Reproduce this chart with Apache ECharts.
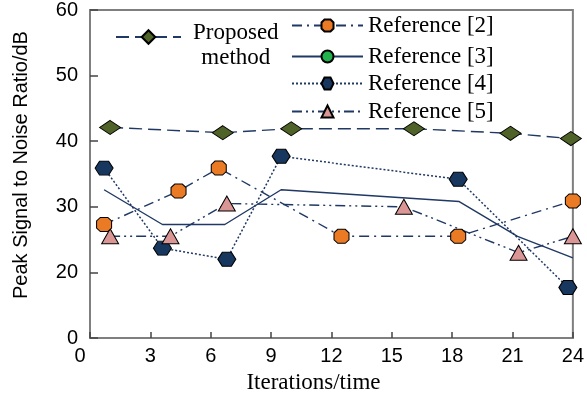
<!DOCTYPE html>
<html>
<head>
<meta charset="utf-8">
<script src="https://cdn.jsdelivr.net/npm/echarts@6/dist/echarts.min.js"></script>
<style>html,body{margin:0;padding:0;background:#fff}#c{width:587px;height:400px}</style>
</head>
<body>
<div id="c"></div>
<script>
// Data: [iteration, PSNR]
const seriesNames = ['Proposed method', 'Reference [2]', 'Reference [3]', 'Reference [4]', 'Reference [5]'];
const proposed = [[1.0, 42.1], [6.6, 41.3], [10.0, 41.9], [16.1, 41.9], [20.9, 41.2], [23.9, 40.4]];
const ref2 = [[0.7, 27.3], [4.4, 32.4], [6.4, 35.9], [12.5, 25.5], [18.3, 25.5], [24.0, 30.9]];
const ref3 = [[0.7, 32.6], [3.6, 27.3], [6.7, 27.3], [9.5, 32.6], [18.35, 30.8], [21.25, 25.5], [24.0, 22.2]];
const ref4 = [[0.7, 35.9], [3.6, 23.7], [6.8, 22.0], [9.5, 37.7], [18.3, 34.2], [23.75, 17.7]];
const ref5 = [[1.0, 25.5], [4.0, 25.5], [6.8, 30.5], [15.6, 30.0], [21.3, 23.0], [24.0, 25.5]];
const xTicks = {min: 0, max: 24, step: 3};
const yTicks = {min: 10, max: 60, step: 10};

const navy = '#1f3864';
const serif = 'Liberation Serif';
const sans = 'Liberation Sans';
const hexPath = 'path://M0,5 L3,0 L9,0 L12,5 L9,10 L3,10 Z';
const octPath = 'path://M3,0 L9,0 L12,3 L12,9 L9,12 L3,12 L0,9 L0,3 Z';

const chart = echarts.init(document.getElementById('c'), null, {renderer: 'canvas'});

function legendAt(name, left, top, width, extra) {
  return Object.assign({
    data: [name], left: left, top: top, padding: 0, orient: 'vertical',
    itemWidth: width, itemHeight: 15, selectedMode: false,
    textStyle: {fontFamily: serif, fontSize: 23, color: '#000', padding: [8, 0, 0, 0]}
  }, extra || {});
}

const option = {
  animation: false,
  backgroundColor: '#fff',
  grid: {left: 90, right: 9, top: 6, bottom: 62, show: true, borderColor: '#7f7f7f', borderWidth: 2},
  legend: [
    legendAt(seriesNames[0], 115, 21, 65, {
      itemHeight: 17,
      formatter: function () { return '{a|Proposed}\n{a|method}'; },
      textStyle: {fontFamily: serif, fontSize: 23, color: '#000', padding: [16, 0, 0, 7],
        rich: {a: {align: 'center', fontFamily: serif, fontSize: 23, lineHeight: 25, color: '#000'}}}
    }),
    legendAt(seriesNames[1], 291, 14, 71),
    legendAt(seriesNames[2], 291, 45, 71),
    legendAt(seriesNames[3], 291, 72, 71),
    legendAt(seriesNames[4], 291, 100, 71)
  ],
  xAxis: {
    type: 'value', min: xTicks.min, max: xTicks.max, interval: xTicks.step,
    name: 'Iterations/time', nameLocation: 'middle', nameGap: 33,
    nameTextStyle: {fontFamily: serif, fontSize: 23, color: '#000', padding: [0, 36, 0, 0]},
    axisLine: {lineStyle: {color: '#7f7f7f', width: 2}},
    axisTick: {inside: true, length: 6, lineStyle: {color: '#444', width: 1.5}},
    axisLabel: {
      fontFamily: sans, fontSize: 20, color: '#000', margin: 8,
      formatter: function (v) { return v === 0 ? '{z|0}' : String(v); },
      rich: {z: {fontFamily: sans, fontSize: 20, color: '#000', padding: [0, 20, 0, 0]}}
    },
    splitLine: {show: false}
  },
  yAxis: {
    type: 'value', min: yTicks.min, max: yTicks.max, interval: yTicks.step,
    name: 'Peak Signal to Noise Ratio/dB', nameLocation: 'middle', nameGap: 59,
    nameTextStyle: {fontFamily: sans, fontSize: 20, color: '#000', padding: [0, 0, 0, 18]},
    axisLine: {lineStyle: {color: '#7f7f7f', width: 2}},
    axisTick: {inside: true, length: 8, lineStyle: {color: '#444', width: 1.5}},
    axisLabel: {
      fontFamily: sans, fontSize: 20, color: '#000', margin: 12, padding: [6, 0, 0, 0],
      formatter: function (v) { return v === yTicks.min ? '0' : String(v); }
    },
    splitLine: {show: false}
  },
  series: [
    {
      name: seriesNames[2], type: 'line', data: ref3, symbol: 'circle', showSymbol: false, symbolSize: [22, 10],
      lineStyle: {color: navy, width: 1.4, type: 'solid'},
      itemStyle: {color: '#22b14c', borderColor: '#000', borderWidth: 1}, z: 2
    },
    {
      name: seriesNames[3], type: 'line', data: ref4, symbol: hexPath, symbolSize: [18, 14],
      lineStyle: {color: navy, width: 1.5, type: [2, 2]},
      itemStyle: {color: '#17375e', borderColor: '#000', borderWidth: 1}, z: 3
    },
    {
      name: seriesNames[4], type: 'line', data: ref5, symbol: 'triangle', symbolSize: [17, 15],
      lineStyle: {color: navy, width: 1.4, type: [10, 4, 2, 4, 2, 4]},
      itemStyle: {color: '#d99694', borderColor: '#000', borderWidth: 1}, z: 3
    },
    {
      name: seriesNames[1], type: 'line', data: ref2, symbol: octPath, symbolSize: [15, 14],
      lineStyle: {color: navy, width: 1.4, type: [10, 5, 2, 5]},
      itemStyle: {color: '#ea7a24', borderColor: '#000', borderWidth: 1}, z: 4
    },
    {
      name: seriesNames[0], type: 'line', data: proposed, symbol: 'diamond', symbolSize: [21, 14],
      lineStyle: {color: navy, width: 1.4, type: [13, 6]},
      itemStyle: {color: '#4f6228', borderColor: '#000', borderWidth: 1}, z: 5
    }
  ]
};
chart.setOption(option);
</script>
</body>
</html>
